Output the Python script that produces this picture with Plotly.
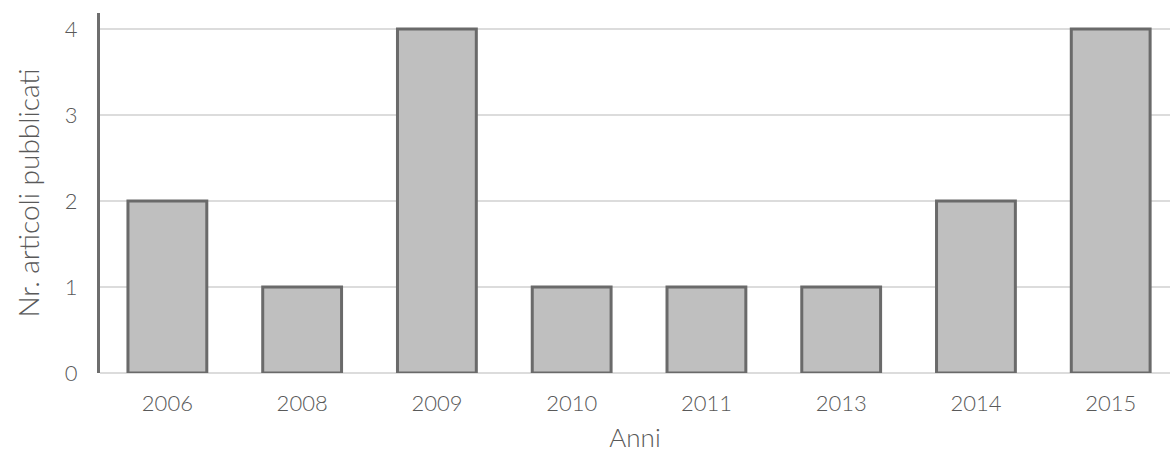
import plotly.graph_objects as go

anni = ["2006", "2008", "2009", "2010", "2011", "2013", "2014", "2015"]
articoli = [2, 1, 4, 1, 1, 1, 2, 4]

font_fam = "Lato, 'Open Sans', sans-serif"
txt_col = "#595959"

fig = go.Figure(go.Bar(
    x=anni, y=articoli,
    marker=dict(color="#bfbfbf", line=dict(color="#6a6a6a", width=3)),
    width=0.585,
))

fig.update_layout(
    width=1170, height=455,
    margin=dict(l=100, r=0, t=13, b=82),
    plot_bgcolor="white", paper_bgcolor="white",
    showlegend=False,
    font=dict(family=font_fam, color=txt_col, size=22, weight=300),
)
fig.update_xaxes(
    type="category",
    range=[-0.5, 7.44],
    showgrid=False,
    showline=False,
    ticks="",
    ticklabelstandoff=15,
    tickfont=dict(size=22, color=txt_col, weight=300),
    title=dict(text="Anni", font=dict(size=26, color=txt_col, weight=300), standoff=13),
)
fig.update_yaxes(
    range=[0, 4.186],
    tickvals=[0, 1, 2, 3, 4],
    showgrid=True, gridcolor="#dcdcdc", gridwidth=2,
    zeroline=True, zerolinecolor="#dcdcdc", zerolinewidth=2,
    showline=True, linecolor="#6e6e6e", linewidth=3,
    ticks="",
    ticklabelstandoff=15,
    tickfont=dict(size=22, color=txt_col, weight=300),
    title=dict(text="Nr. articoli pubblicati", font=dict(size=28, color=txt_col, weight=300), standoff=18),
)

fig.write_html("out.html")
